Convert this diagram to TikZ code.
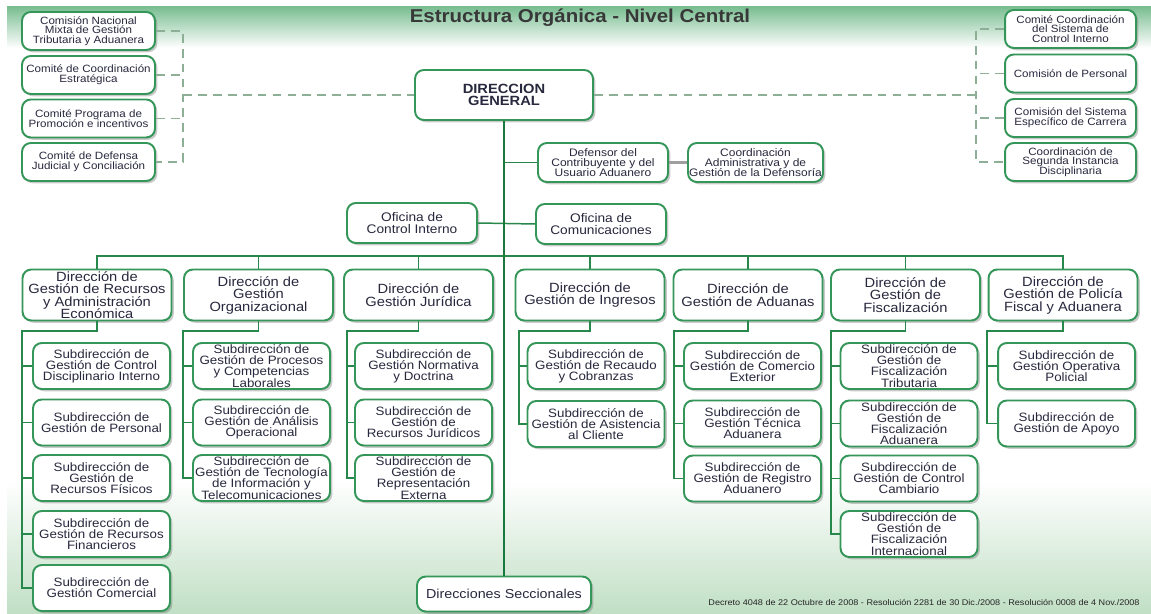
\documentclass[tikz,border=0pt]{standalone}
\usepackage{fontspec}
\setmainfont{Liberation Sans}[FakeStretch=1.1]
\usetikzlibrary{shadows}

\definecolor{boxgreen}{RGB}{52,150,88}
\definecolor{linegreen}{RGB}{40,135,75}
\definecolor{trunkgreen}{RGB}{22,122,62}
\definecolor{dashgreen}{RGB}{140,175,150}
\definecolor{textblue}{RGB}{40,40,62}
\definecolor{bandgreen}{RGB}{122,190,146}
\definecolor{footgreen}{RGB}{192,223,196}

\lineskiplimit=-20pt

\begin{document}
\begin{tikzpicture}[x=0.02cm,y=-0.02cm]

        \tikzstyle{unit} = [draw=boxgreen, line width=1.1pt, rounded corners=5pt, fill=white, text=textblue, align=center, inner sep=0pt, drop shadow={shadow xshift=1.3pt, shadow yshift=-1.3pt, opacity=0.35, fill=black!60}];
        \tikzstyle{committee} = [unit, minimum width=2.66cm, minimum height=0.76cm, font=\fontsize{6}{5.5}\selectfont];
        \tikzstyle{general} = [unit, minimum width=3.56cm, minimum height=1cm, font=\bfseries\fontsize{7.6}{6.7}\selectfont];
        \tikzstyle{office} = [unit, minimum width=2.6cm, minimum height=0.8cm, font=\fontsize{7.1}{6.7}\selectfont];
        \tikzstyle{defbox} = [unit, minimum width=2.6cm, minimum height=0.78cm, font=\fontsize{6.2}{5.7}\selectfont];
        \tikzstyle{dirbox} = [unit, minimum width=2.98cm, minimum height=1.02cm, font=\fontsize{7.6}{7.1}\selectfont];
        \tikzstyle{subbox} = [unit, minimum width=2.74cm, minimum height=0.92cm, font=\fontsize{6.9}{6.3}\selectfont];
        \tikzstyle{secbox} = [unit, minimum width=3.48cm, minimum height=0.7cm, font=\fontsize{7.4}{8}\selectfont];
        \tikzstyle{branch} = [linegreen, line width=0.85pt];
        \tikzstyle{trunk} = [trunkgreen, line width=1.6pt];
        \tikzstyle{dashline} = [dashgreen, line width=0.75pt, dash pattern=on 5pt off 3.5pt];

        \useasboundingbox (0,0) rectangle (1151,614);
        \shade[top color=bandgreen, bottom color=white] (7,7) rectangle (1151,48);
        \shade[top color=white, bottom color=footgreen] (7,480) rectangle (1151,614);

        \node[text=black!78, font=\bfseries\fontsize{10.6}{12}\selectfont] (title) at (580,18) {Estructura Orgánica - Nivel Central};

        % comites y comisiones
        \node[committee] (C1) at (88.5,31) {Comisión Nacional\\Mixta de Gestión\\Tributaria y Aduanera};
        \node[committee] (C2) at (88.5,75) {Comité de Coordinación\\Estratégica};
        \node[committee] (C3) at (88.5,118.5) {Comité Programa de\\Promoción e incentivos};
        \node[committee] (C4) at (88.5,162) {Comité de Defensa\\Judicial y Conciliación};

        \node[committee, minimum width=2.62cm] (R1) at (1070.5,29) {Comité Coordinación\\del Sistema de\\Control Interno};
        \node[committee, minimum width=2.62cm] (R2) at (1070.5,73.5) {Comisión de Personal};
        \node[committee, minimum width=2.62cm] (R3) at (1070.5,118) {Comisión del Sistema\\Específico de Carrera};
        \node[committee, minimum width=2.62cm] (R4) at (1070.5,162) {Coordinación de\\Segunda Instancia\\Disciplinaria};

        \node[general] (DG) at (504,95) {DIRECCION\\GENERAL};

        \node[defbox] (DEF) at (603,162.5) {Defensor del\\Contribuyente y del\\Usuario Aduanero};
        \node[defbox, minimum width=2.7cm] (CAD) at (755.5,162.5) {Coordinación\\Administrativa y de\\Gestión de la Defensoría};

        \node[office] (OCI) at (412,223) {Oficina de\\Control Interno};
        \node[office] (OCO) at (601,224) {Oficina de\\Comunicaciones};

        % direcciones
        \node[dirbox] (D1) at (97,295) {Dirección de\\Gestión de Recursos\\y Administración\\Económica};
        \node[dirbox] (D2) at (258.5,295) {Dirección de\\Gestión\\Organizacional};
        \node[dirbox] (D3) at (418.5,295) {Dirección de\\Gestión Jurídica};
        \node[dirbox] (D4) at (590,295) {Dirección de\\Gestión de Ingresos};
        \node[dirbox] (D5) at (748,295) {Dirección de\\Gestión de Aduanas};
        \node[dirbox] (D6) at (905.5,295) {Dirección de\\Gestión de\\Fiscalización};
        \node[dirbox] (D7) at (1063,295) {Dirección de\\Gestión de Policía\\Fiscal y Aduanera};

        % subdirecciones
        \node[subbox] (S1a) at (101.5,366) {Subdirección de\\Gestión de Control\\Disciplinario Interno};
        \node[subbox] (S1b) at (101.5,422.5) {Subdirección de\\Gestión de Personal};
        \node[subbox] (S1c) at (101.5,478) {Subdirección de\\Gestión de\\Recursos Físicos};
        \node[subbox] (S1d) at (101.5,534) {Subdirección de\\Gestión de Recursos\\Financieros};
        \node[subbox] (S1e) at (101.5,588) {Subdirección de\\Gestión Comercial};

        \node[subbox] (S2a) at (261.5,366) {Subdirección de\\Gestión de Procesos\\y Competencias\\Laborales};
        \node[subbox] (S2b) at (261.5,422.5) {Subdirección de\\Gestión de Análisis\\Operacional};
        \node[subbox] (S2c) at (261.5,478) {Subdirección de\\Gestión de Tecnología\\de Información y\\Telecomunicaciones};

        \node[subbox] (S3a) at (423.5,366) {Subdirección de\\Gestión Normativa\\y Doctrina};
        \node[subbox] (S3b) at (423.5,422.5) {Subdirección de\\Gestión de\\Recursos Jurídicos};
        \node[subbox] (S3c) at (423.5,478) {Subdirección de\\Gestión de\\Representación\\Externa};

        \node[subbox] (S4a) at (596,366) {Subdirección de\\Gestión de Recaudo\\y Cobranzas};
        \node[subbox] (S4b) at (596,424) {Subdirección de\\Gestión de Asistencia\\al Cliente};

        \node[subbox] (S5a) at (752.5,366) {Subdirección de\\Gestión de Comercio\\Exterior};
        \node[subbox] (S5b) at (752.5,423.5) {Subdirección de\\Gestión Técnica\\Aduanera};
        \node[subbox] (S5c) at (752.5,478.5) {Subdirección de\\Gestión de Registro\\Aduanero};

        \node[subbox] (S6a) at (909,366) {Subdirección de\\Gestión de\\Fiscalización\\Tributaria};
        \node[subbox] (S6b) at (909,423.5) {Subdirección de\\Gestión de\\Fiscalización\\Aduanera};
        \node[subbox] (S6c) at (909,478.5) {Subdirección de\\Gestión de Control\\Cambiario};
        \node[subbox] (S6d) at (909,534) {Subdirección de\\Gestión de\\Fiscalización\\Internacional};

        \node[subbox] (S7a) at (1066.5,366) {Subdirección de\\Gestión Operativa\\Policial};
        \node[subbox] (S7b) at (1066.5,423.5) {Subdirección de\\Gestión de Apoyo};

        \node[secbox] (DS) at (504,594) {Direcciones Seccionales};

        \node[text=black!85, font=\fontsize{4.7}{5}\selectfont] (decreto) at (924,602) {Decreto 4048 de 22 Octubre de 2008 - Resolución 2281 de 30 Dic./2008 - Resolución 0008 de 4 Nov./2008};

        % lineas punteadas a comites
        \coordinate (lj) at (183,95);
        \coordinate (rj) at (976,95);

        \draw[dashline] (C1.east) -| (C4.east -| lj) -- (C4.east);
        \draw[dashline] (C2.east) -- (C2.east -| lj);
        \draw[dashline] (C3.east) -- (C3.east -| lj);
        \draw[dashline] (lj) -- (DG.west);

        \draw[dashline] (R1.west) -| (R4.west -| rj) -- (R4.west);
        \draw[dashline] (R2.west) -- (R2.west -| rj);
        \draw[dashline] (R3.west) -- (R3.west -| rj);
        \draw[dashline] (DG.east) -- (rj);

        % dependencias directas
        \draw[branch] (DEF.west) -- (DG.south |- DEF.west);
        \draw[gray!75, line width=1.5pt] (DEF.east) -- (CAD.west);
        \draw[branch] (OCI.east) -- (OCO.west);

        % barra de direcciones
        \coordinate (bus) at (504,256);
        \draw[branch] (D1.north) |- (bus) -| (D7.north);
        \draw[branch] (D2.north) -- (D2.north |- bus);
        \draw[branch] (D3.north) -- (D3.north |- bus);
        \draw[branch] (D4.north) -- (D4.north |- bus);
        \draw[branch] (D5.north) -- (D5.north |- bus);
        \draw[branch] (D6.north) -- (D6.north |- bus);

        \draw[trunk] (DG.south) -- (DS.north);

        % ramas de subdirecciones
        \coordinate (b1) at (22,331);
        \coordinate (b2) at (183,331);
        \coordinate (b3) at (347,331);
        \coordinate (b4) at (519,331);
        \coordinate (b5) at (674,331);
        \coordinate (b6) at (831,331);
        \coordinate (b7) at (987,331);

        \draw[branch] (D1.south) |- (b1) |- (S1e.west);
        \draw[branch] (b1 |- S1a.west) -- (S1a.west);
        \draw[branch] (b1 |- S1b.west) -- (S1b.west);
        \draw[branch] (b1 |- S1c.west) -- (S1c.west);
        \draw[branch] (b1 |- S1d.west) -- (S1d.west);

        \draw[branch] (D2.south) |- (b2) |- (S2c.west);
        \draw[branch] (b2 |- S2a.west) -- (S2a.west);
        \draw[branch] (b2 |- S2b.west) -- (S2b.west);

        \draw[branch] (D3.south) |- (b3) |- (S3c.west);
        \draw[branch] (b3 |- S3a.west) -- (S3a.west);
        \draw[branch] (b3 |- S3b.west) -- (S3b.west);

        \draw[branch] (D4.south) |- (b4) |- (S4b.west);
        \draw[branch] (b4 |- S4a.west) -- (S4a.west);

        \draw[branch] (D5.south) |- (b5) |- (S5c.west);
        \draw[branch] (b5 |- S5a.west) -- (S5a.west);
        \draw[branch] (b5 |- S5b.west) -- (S5b.west);

        \draw[branch] (D6.south) |- (b6) |- (S6d.west);
        \draw[branch] (b6 |- S6a.west) -- (S6a.west);
        \draw[branch] (b6 |- S6b.west) -- (S6b.west);
        \draw[branch] (b6 |- S6c.west) -- (S6c.west);

        \draw[branch] (D7.south) |- (b7) |- (S7b.west);
        \draw[branch] (b7 |- S7a.west) -- (S7a.west);

    \end{tikzpicture}
\end{document}
